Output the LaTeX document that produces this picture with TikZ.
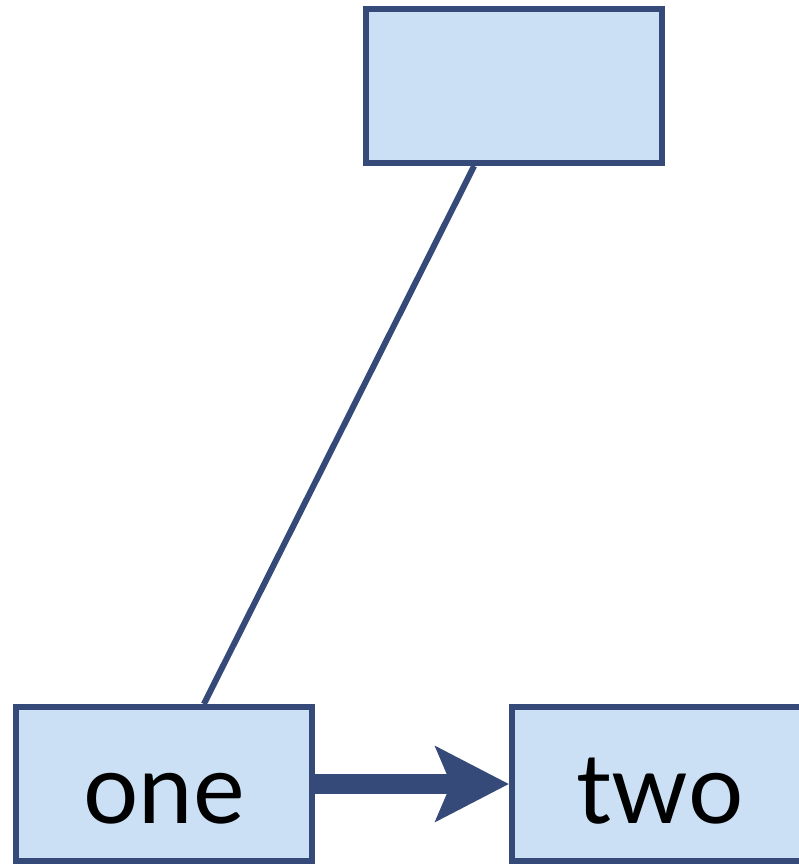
\documentclass[tikz,border=0pt]{standalone}
\usepackage{fontspec}
\setmainfont{Lato}
\usetikzlibrary{arrows.meta}
\definecolor{boxfill}{HTML}{CCE0F5}
\definecolor{boxline}{HTML}{354A78}

\begin{document}
\begin{tikzpicture}[x=1bp,y=-1bp,node distance=496bp,
    box node/.style={rectangle,draw=boxline,fill=boxfill,line width=6bp,minimum width=296bp,minimum height=154bp,inner sep=0pt,text height=78bp,text depth=0bp,font=\fontsize{98}{98}\selectfont}]
                \useasboundingbox (0,0) rectangle (799,866);
                \node[box node] (top) at (514,86) {};
                \node[box node] (one) at (164,784) {one};
                \node[box node] (two) [right of = one] {two};

                \path[color=boxline]
                    (top) edge[line width=6bp] (one)
                    (one) edge[line width=20bp,-{Stealth[length=73bp,width=74bp,inset=15bp]}] (two)
                    ;
            \end{tikzpicture}
\end{document}
